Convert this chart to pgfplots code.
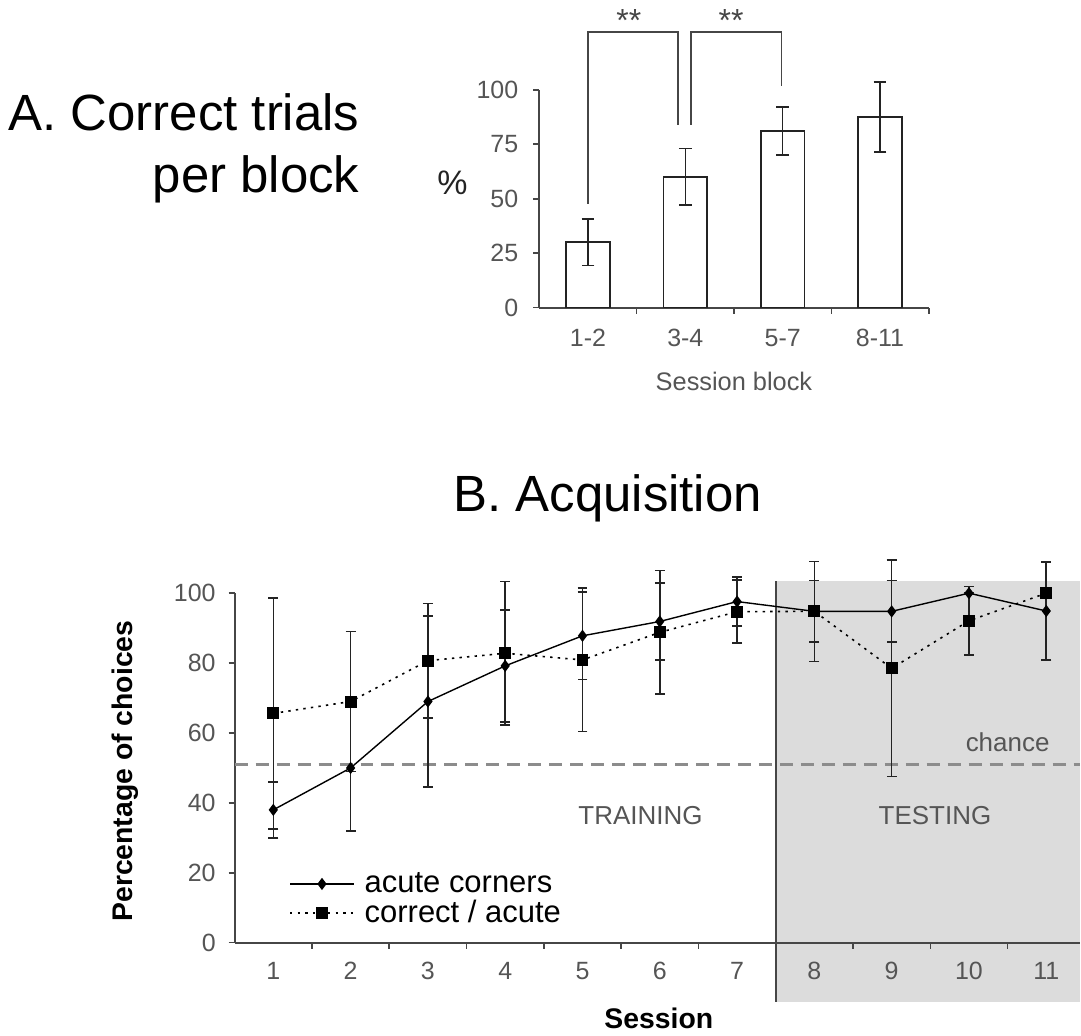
\documentclass[border=0pt]{standalone}
\usepackage{fontspec}
\setmainfont{Liberation Sans}
\usepackage{pgfplots}
\usepackage{pgfplotstable}
\pgfplotsset{compat=1.18}

\definecolor{axisgray}{RGB}{70,70,70}
\definecolor{ticktext}{RGB}{85,85,85}
\definecolor{bgshade}{RGB}{220,220,220}
\definecolor{chancegray}{RGB}{140,140,140}
\definecolor{barline}{RGB}{35,35,35}

% block means (%) and error half-widths
\pgfplotstableread{
x y e
0 30 10.7
1 60 13
2 81 11
3 87.5 16
}\blocks

% per session: acute corners and correct/acute, with error half-widths
\pgfplotstableread{
s acute ae corr ce
1 38 8 65.6 33
2 50 18 69 20
3 69 24.5 80.7 16.4
4 79.2 16 82.8 20.5
5 87.8 12.5 80.9 20.5
6 91.9 11 88.8 17.7
7 97.6 7 94.7 9
8 94.8 8.8 94.8 14.3
9 94.8 8.8 78.5 31
10 100 0 92.1 9.8
11 94.9 14 100 0
}\sessions

\begin{document}
\begin{tikzpicture}
\path (0,0) rectangle (540.5pt,-518pt);

\node[anchor=base east, font=\fontsize{25.5}{30}\selectfont] at (183.5pt,-65.5pt) {A. Correct trials};
\node[anchor=base east, font=\fontsize{25.5}{30}\selectfont] at (183.5pt,-96.5pt) {per block};
\node[font=\fontsize{17}{20}\selectfont, text=barline] at (226.5pt,-91.5pt) {\%};
\node[anchor=base west, font=\fontsize{25.5}{30}\selectfont] at (223.5pt,-256pt) {B. Acquisition};

% A: bar chart
\begin{axis}[
  at={(270pt,-154pt)}, anchor=south west,
  width=195pt, height=109pt, scale only axis,
  ybar, clip=false,
  axis lines=left, axis line style={-, axisgray, line width=1pt},
  xmin=-0.5, xmax=3.5, ymin=0, ymax=100,
  xtick={0,1,2,3}, xticklabels={1-2,3-4,5-7,8-11},
  minor xtick={0.5,1.5,2.5,3.5},
  major x tick style={draw=none},
  ytick={0,25,50,75,100},
  tick align=outside, major tick length=3pt, minor tick length=3pt,
  tick style={axisgray, line width=0.8pt},
  tick label style={font=\fontsize{12.5}{15}\selectfont, text=ticktext},
  /pgf/number format/assume math mode=true,
  yticklabel style={xshift=-4pt},
  xticklabel style={yshift=-4pt, text height=9pt, text depth=0pt},
  xlabel={Session block},
  xlabel style={at={(axis description cs:0.5,-0.34)}, anchor=center,
    font=\fontsize{12.7}{15}\selectfont, text=ticktext},
]
\addplot[fill=white, draw=barline, line width=0.8pt, bar width=0.45,
  error bars/.cd, y dir=both, y explicit,
  error bar style={barline, line width=0.8pt},
  error mark options={rotate=90, mark size=3.2pt, barline, line width=0.8pt}]
  table[x=x, y=y, y error=e] {\blocks};

\draw[axisgray, line width=0.8pt] (axis cs:0,47.7) |- (axis cs:0.926,126.6) -- (axis cs:0.926,84);
\draw[axisgray, line width=0.8pt] (axis cs:1.059,84) |- (axis cs:1.99,126.6) -- (axis cs:1.99,102);
\node[font=\fontsize{16}{18}\selectfont, text=axisgray, yshift=-3pt] at (axis cs:0.42,134.4) {**};
\node[font=\fontsize{16}{18}\selectfont, text=axisgray, yshift=-3pt] at (axis cs:1.47,134.4) {**};
\end{axis}

% B: acquisition curves
\begin{axis}[
  at={(117.5pt,-472pt)}, anchor=south west,
  width=423pt, height=175pt, scale only axis,
  set layers, clip=false,
  axis lines=left, axis line style={-, axisgray, line width=1pt},
  xmin=0.5, xmax=11.43, ymin=0, ymax=100,
  xtick={1,2,...,11}, minor xtick={1.5,2.5,...,10.5},
  major x tick style={draw=none},
  ytick={0,20,...,100},
  tick align=outside, major tick length=3pt, minor tick length=3pt,
  tick style={axisgray, line width=0.8pt},
  tick label style={font=\fontsize{12.5}{15}\selectfont, text=ticktext},
  /pgf/number format/assume math mode=true,
  yticklabel style={xshift=-3pt},
  xticklabel style={yshift=-3pt, text height=9pt, text depth=0pt},
  xlabel={\textbf{Session}},
  xlabel style={at={(axis description cs:0.502,-0.217)}, anchor=center,
    font=\fontsize{14.2}{17}\selectfont},
  ylabel={\textbf{Percentage of choices}},
  ylabel style={at={(axis description cs:-0.13,0.491)}, anchor=center,
    font=\fontsize{14.2}{17}\selectfont},
  legend style={at={(0.057,0.225)}, anchor=north west, draw=none, fill=none,
    font=\fontsize{15.5}{17}\selectfont, row sep=-1.5pt,
    nodes={inner xsep=5pt}},
  legend cell align=left,
  legend image code/.code={\draw[mark repeat=2, mark phase=2, #1]
    plot coordinates {(0pt,0pt) (16pt,0pt) (32pt,0pt)};},
]
\begin{pgfonlayer}{axis background}
\fill[bgshade] (axis cs:7.5,-16.9) rectangle (axis cs:11.43,103.4);
\end{pgfonlayer}
\draw[chancegray, line width=1.5pt, dash pattern=on 6.5pt off 4pt] (axis cs:0.5,51) -- (axis cs:11.43,51);
\draw[axisgray, line width=0.8pt] (axis cs:7.5,-16.9) -- (axis cs:7.5,103.4);

\addplot[black, line width=0.7pt, mark=diamond*, mark size=2.5pt, mark options={solid},
  error bars/.cd, y dir=both, y explicit,
  error bar style={solid, barline, line width=0.8pt},
  error mark options={solid, rotate=90, mark size=2.5pt, barline, line width=0.8pt}]
  table[x=s, y=acute, y error=ae] {\sessions};
\addlegendentry{acute corners}

\addplot[black, line width=0.8pt, dash pattern=on 1.2pt off 2.6pt, mark=square*, mark size=2.6pt, mark options={solid},
  error bars/.cd, y dir=both, y explicit,
  error bar style={solid, barline, line width=0.8pt},
  error mark options={solid, rotate=90, mark size=2.5pt, barline, line width=0.8pt}]
  table[x=s, y=corr, y error=ce] {\sessions};
\addlegendentry{correct / acute}

\node[font=\fontsize{13}{15}\selectfont, text=ticktext] at (axis cs:5.75,36.3) {TRAINING};
\node[font=\fontsize{13}{15}\selectfont, text=ticktext] at (axis cs:9.56,36.3) {TESTING};
\node[font=\fontsize{13}{15}\selectfont, text=ticktext] at (axis cs:10.5,57.4) {chance};
\end{axis}
\end{tikzpicture}
\end{document}
